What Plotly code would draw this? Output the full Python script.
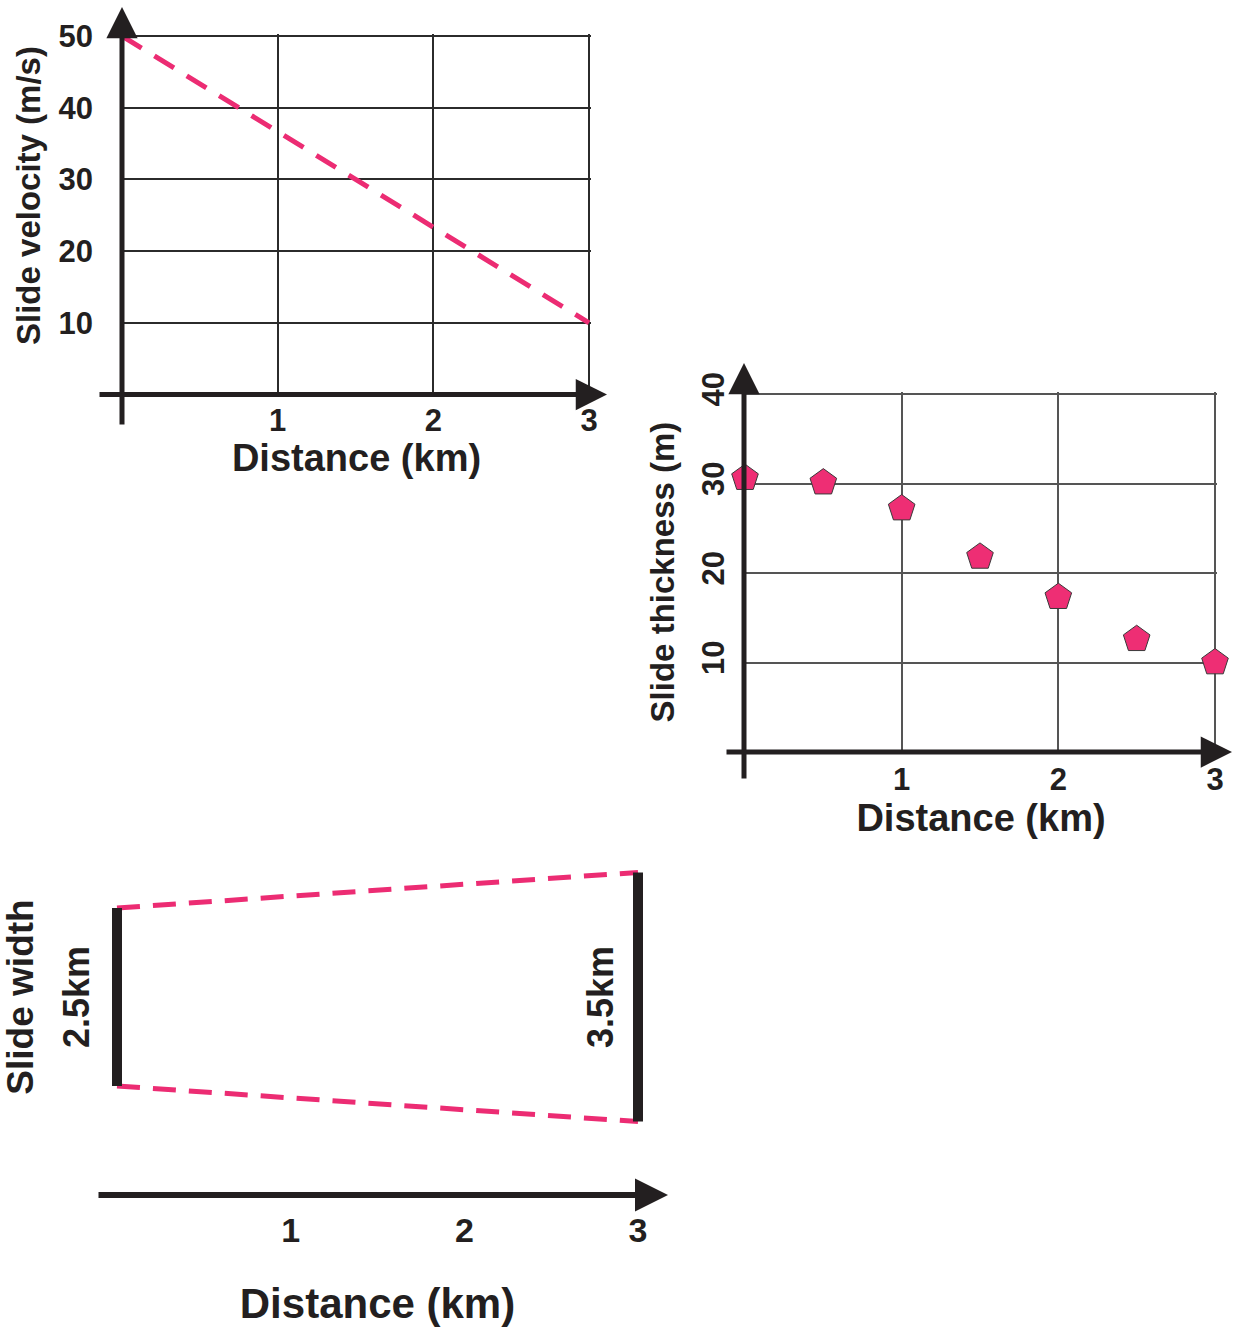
import plotly.graph_objects as go

W, H = 1233, 1329
DARK = "#231f20"
PINK = "#ec2c73"
FONT = "Liberation Sans"

# ---------------- data ----------------
dist_ticks = [1, 2, 3]
vel_dist = [0, 3]
vel_values = [50, 10]
vel_ticks = [10, 20, 30, 40, 50]

thick_dist = [0, 0.5, 1, 1.5, 2, 2.5, 3]
thick_values = [30.6, 30.1, 27.2, 21.8, 17.3, 12.6, 10.0]
thick_ticks = [10, 20, 30, 40]

width_dist = [0, 3]
width_km = [2.5, 3.5]
width_labels = ["2.5km", "3.5km"]


def fx(px):
    return px / W


def fy(py):
    return 1 - py / H


def xspan(p0, p1, v0, v1, ext_lo=0.0, ext_hi=2.0):
    """domain/range so that v0 sits at pixel p0 and v1 at p1, extended by some pixels."""
    k = (v1 - v0) / (p1 - p0)
    return [fx(p0 - ext_lo), fx(p1 + ext_hi)], [v0 - ext_lo * k, v1 + ext_hi * k]


def yspan(p0, p1, v0, v1, ext=2.0):
    """p0 = pixel (from top) of v0 (bottom), p1 = pixel of v1 (top)."""
    k = (v1 - v0) / (p0 - p1)
    return [fy(p0), fy(p1 - ext)], [v0, v1 + ext * k]


fig = go.Figure()

# Panel 1: velocity
fig.add_trace(go.Scatter(
    x=vel_dist, y=vel_values, mode="lines", xaxis="x", yaxis="y",
    line=dict(color=PINK, width=5, dash="23px,15px"), cliponaxis=False,
    hoverinfo="skip"))

# Panel 2: thickness
fig.add_trace(go.Scatter(
    x=thick_dist, y=thick_values, mode="markers", xaxis="x2", yaxis="y2",
    marker=dict(symbol="pentagon", size=28, color="#ee2e74",
                line=dict(color="#3a3a3a", width=1)),
    cliponaxis=False))

# Panel 3: width (dashed edges then bars)
half = [w / 2 for w in width_km]
fig.add_trace(go.Scatter(
    x=width_dist, y=half, mode="lines", xaxis="x3", yaxis="y3",
    line=dict(color=PINK, width=5, dash="23px,13px"), cliponaxis=False))
fig.add_trace(go.Scatter(
    x=width_dist, y=[-h for h in half], mode="lines", xaxis="x3", yaxis="y3",
    line=dict(color=PINK, width=5, dash="23px,13px"), cliponaxis=False))
for d, h in zip(width_dist, half):
    fig.add_trace(go.Scatter(
        x=[d, d], y=[-h, h], mode="lines", xaxis="x3", yaxis="y3",
        line=dict(color=DARK, width=10), cliponaxis=False))


def tickfont(size):
    return dict(family=FONT, size=size, color=DARK, weight="bold")


common = dict(showline=False, zeroline=False, ticks="", fixedrange=True,
              automargin=False)

x1d, x1r = xspan(122, 589, 0, 3)
y1d, y1r = yspan(394.5, 36, 0, 50)
x2d, x2r = xspan(745, 1215, 0, 3)
y2d, y2r = yspan(752, 394, 0, 40)
x3d, x3r = xspan(117, 638, 0, 3, ext_lo=12, ext_hi=12)

fig.update_layout(
    width=W, height=H, margin=dict(l=0, r=0, t=0, b=0, autoexpand=False),
    paper_bgcolor="white", plot_bgcolor="white", showlegend=False,
    xaxis=dict(domain=x1d, range=x1r, anchor="y",
               tickvals=dist_ticks, showgrid=True, gridcolor="#2b2b2b",
               gridwidth=1.6, tickfont=tickfont(31), ticklabelstandoff=4,
               title=dict(text="Distance (km)", font=tickfont(38), standoff=0),
               **common),
    yaxis=dict(domain=y1d, range=y1r, anchor="x",
               tickvals=vel_ticks, showgrid=True, gridcolor="#2b2b2b",
               gridwidth=1.6, tickfont=tickfont(31), ticklabelstandoff=28,
               **common),
    xaxis2=dict(domain=x2d, range=x2r, anchor="y2",
                tickvals=dist_ticks, showgrid=True, gridcolor="#555555",
                gridwidth=1.5, tickfont=tickfont(31), ticklabelstandoff=6,
                title=dict(text="Distance (km)", font=tickfont(38), standoff=0),
                **common),
    yaxis2=dict(domain=y2d, range=y2r, anchor="x2",
                tickvals=thick_ticks, showgrid=True, gridcolor="#555555",
                gridwidth=1.5, tickfont=tickfont(31), tickangle=-90,
                ticklabelstandoff=14,
                title=dict(text="Slide thickness (m)", font=tickfont(33),
                           standoff=11),
                **common),
    xaxis3=dict(domain=x3d, range=x3r, anchor="free",
                position=fy(1195), tickvals=dist_ticks, showgrid=False,
                tickfont=tickfont(34), ticklabelstandoff=12,
                title=dict(text="Distance (km)", font=tickfont(42), standoff=40),
                **common),
    yaxis3=dict(domain=[fy(1139.4), fy(854.6)], range=[-2, 2], anchor="x3",
                showgrid=False, showticklabels=False,
                title=dict(text="Slide width", font=tickfont(37), standoff=70),
                **common),
)


def arrow(x0, y0, x1, y1, width, size):
    # tail (x0, y0) -> tip (x1, y1), pixel coords
    return dict(x=fx(x1), y=fy(y1), xref="paper", yref="paper",
                ax=x0 - x1, ay=y0 - y1, axref="pixel", ayref="pixel",
                showarrow=True, arrowhead=2, arrowsize=size, arrowwidth=width,
                arrowcolor=DARK, text="")


annotations = [
    arrow(122, 426, 122, 7, 5, 1.25),
    arrow(98, 394.5, 607, 394.5, 5, 1.25),
    arrow(744, 780, 744, 363, 5, 1.25),
    arrow(725, 752, 1233, 752, 5, 1.25),
    arrow(97, 1195, 668, 1195, 6, 1.1),
    dict(x=fx(28), y=fy(196), xref="paper", yref="paper",
         xanchor="center", yanchor="middle",
         text="Slide velocity (m/s)", textangle=-90, showarrow=False,
         font=tickfont(33)),
]
shifts = [-41, -38]
for d, lab, s in zip(width_dist, width_labels, shifts):
    annotations.append(dict(x=d, y=0, xref="x3", yref="y3", text=lab,
                            xanchor="center", yanchor="middle",
                            textangle=-90, showarrow=False, xshift=s,
                            font=tickfont(36)))
fig.update_layout(annotations=annotations)

fig.write_html("out.html",
               config={"displayModeBar": False},
               post_script="document.body.style.margin='0px';"
                           "document.body.style.overflow='hidden';")
